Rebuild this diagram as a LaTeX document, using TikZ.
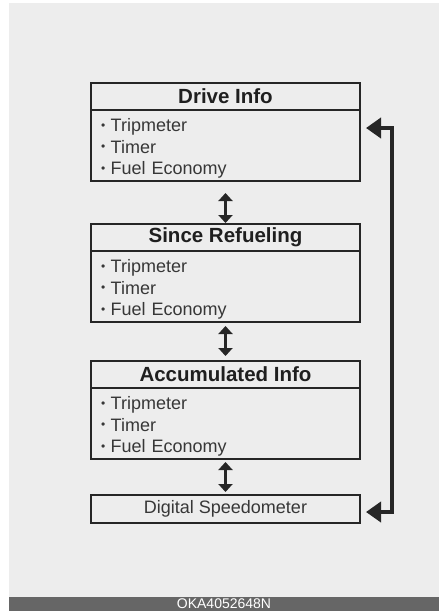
\documentclass[tikz,border=0pt]{standalone}
\usepackage{fontspec}
\setmainfont{Liberation Sans}
\usetikzlibrary{arrows.meta,positioning}
\definecolor{bggray}{RGB}{237,237,237}
\definecolor{bargray}{RGB}{102,102,102}
\definecolor{boxline}{RGB}{38,38,38}
\definecolor{itemtext}{RGB}{55,55,55}
\newcommand{\listdot}{\raisebox{2.4pt}{\fontsize{12}{12}\selectfont •}\hspace{5.5pt}}

\begin{document}
\begin{tikzpicture}[x=1pt,y=-1pt,
  boxtitle/.style={draw=boxline, line width=1.8pt, outer sep=0pt, inner sep=0pt,
    minimum width=269pt, minimum height=27pt,
    font=\fontsize{20.5}{24}\selectfont\bfseries, text=black!88},
  itemlist/.style={draw=boxline, line width=1.8pt, outer sep=0pt, inner xsep=10pt, inner ysep=0pt,
    minimum width=269pt, text width=249pt, minimum height=71pt, align=left,
    font=\fontsize{18}{21.3}\selectfont, text=itemtext},
  updown/.style={{Triangle[width=14pt,length=8pt]}-{Triangle[width=14pt,length=8pt]},
    line width=3.5pt, boxline},
  backarrow/.style={{Triangle[width=20pt,length=15pt]}-{Triangle[width=20pt,length=15pt]},
    line width=4pt, boxline, line join=miter}]
  \useasboundingbox (0,0) rectangle (442,611);
  % background and caption bar
  \fill[bggray] (9,3) rectangle (439,597);
  \fill[bargray] (9,597) rectangle (439,611);
  \node[font=\fontsize{14}{16}\selectfont, text=white!93, inner sep=0pt] (code) at (224,604) {OKA4052648N};
  % the four screens
  \node[boxtitle] (drive) at (225.5,96.5) {Drive Info};
  \node[itemlist, below=0pt of drive] (drive list)
    {\rule{0pt}{19pt}\listdot Tripmeter\\\listdot Timer\\\listdot Fuel Economy};
  \node[boxtitle, below=43pt of drive list] (since) {Since Refueling};
  \node[itemlist, below=0pt of since] (since list)
    {\rule{0pt}{19pt}\listdot Tripmeter\\\listdot Timer\\\listdot Fuel Economy};
  \node[boxtitle, below=39pt of since list] (accum) {Accumulated Info};
  \node[itemlist, below=0pt of accum] (accum list)
    {\rule{0pt}{19pt}\listdot Tripmeter\\\listdot Timer\\\listdot Fuel Economy};
  \node[draw=boxline, line width=1.8pt, outer sep=0pt, inner sep=0pt, minimum width=269pt, minimum height=28pt,
    font=\fontsize{18}{21}\selectfont, text=itemtext, below=36pt of accum list] (ds) {Digital Speedometer};
  % switching arrows
  \draw[updown, shorten <=12pt, shorten >=1pt] (drive list.south) -- (since.north);
  \draw[updown, shorten <=4pt, shorten >=5pt] (since list.south) -- (accum.north);
  \draw[updown, shorten <=3pt, shorten >=3pt] (accum list.south) -- (ds.north);
  % return path
  \draw[backarrow] ([xshift=6pt,yshift=-3pt]ds.east) -- ++(26,0) |- ([xshift=6pt,yshift=-18pt]drive list.north east);
\end{tikzpicture}
\end{document}
